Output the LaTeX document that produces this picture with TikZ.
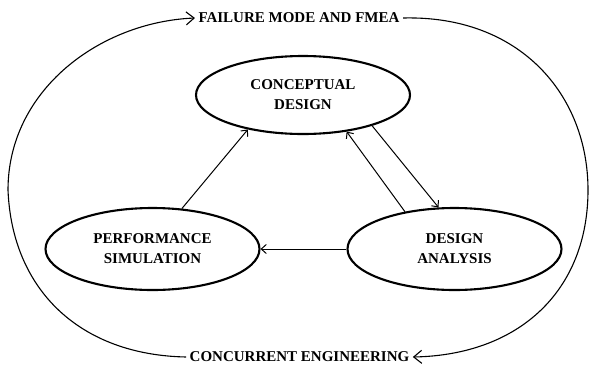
\documentclass[tikz,border=0pt]{standalone}
\usepackage{fontspec}
\setmainfont{Liberation Serif}
\usetikzlibrary{shapes.geometric,arrows.meta}
\begin{document}
\begin{tikzpicture}[x=1pt,y=-1pt,
    lbl/.style={font=\fontsize{15}{20}\selectfont\bfseries,align=center},
    stage/.style={lbl,ellipse,draw,line width=2.1pt,minimum width=214pt,minimum height=78pt,inner sep=0pt}]
      \useasboundingbox (0,0) rectangle (595,365);
      \draw
        (303,95) node[stage] (concept){CONCEPTUAL\\DESIGN}
        (152.5,249) node[stage,minimum height=82pt] (perf){PERFORMANCE\\SIMULATION}
        (454.5,249) node[stage,minimum height=82pt] (analysis){DESIGN\\ANALYSIS}
        (299,18) node[lbl] (fmea){FAILURE MODE AND FMEA}
        (299.5,357) node[lbl] (ce){CONCURRENT ENGINEERING};
      \begin{scope}[-{Straight Barb[length=5pt,width=9pt]},line width=1pt]
        \draw (perf.54) to (concept.212);
        \draw (analysis.143) to (concept.320);
        \draw (concept.336) to (analysis.111);
        \draw (analysis.180) to (perf.0);
      \end{scope}
      \begin{scope}[-{Straight Barb[length=8pt,width=13pt]},line width=1.1pt]
        \draw (ce.west) .. controls (80,355) and (12,290) .. (8,190)
          .. controls (8,90) and (100,22) .. (fmea.west);
        \draw (fmea.east) .. controls (520,15) and (588,95) .. (588,190)
          .. controls (588,290) and (520,355) .. (ce.east);
      \end{scope}
    \end{tikzpicture}
\end{document}
